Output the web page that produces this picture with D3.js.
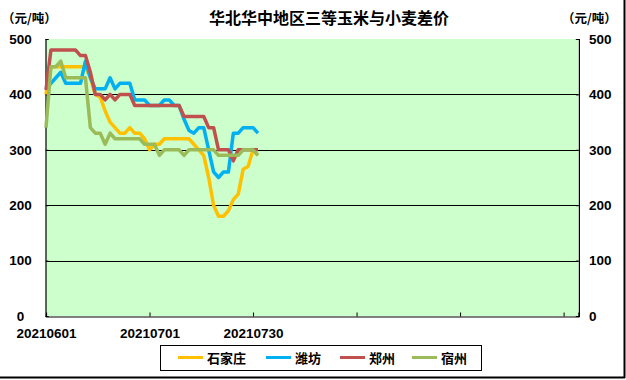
<!DOCTYPE html>
<html><head><meta charset="utf-8">
<script src="https://cdn.jsdelivr.net/npm/d3@7"></script>
<style>
html,body{margin:0;padding:0;background:#fff;}
svg{display:block;}
</style></head>
<body>
<svg id="chart" width="626" height="380"></svg>
<script>
// ---------- DATA ----------
const title = "华北华中地区三等玉米与小麦差价";
const unitLabel = "（元/吨）";
const dates = [
  "20210601","20210602","20210603","20210604","20210607","20210608","20210609","20210610","20210611",
  "20210615","20210616","20210617","20210618","20210621","20210622","20210623","20210624","20210625",
  "20210628","20210629","20210630",
  "20210701","20210702","20210705","20210706","20210707","20210708","20210709","20210712","20210713",
  "20210714","20210715","20210716","20210719","20210720","20210721","20210722","20210723","20210726",
  "20210727","20210728","20210729",
  "20210730","20210802"
];
const totalSlots = 109;          // category slots on the x axis (many left empty)
const labelEvery = 21;           // a tick label every 21 categories
const tickLabels = ["20210601","20210701","20210730","","",""];
const yTicks = [0,100,200,300,400,500];

const seriesNames = ["石家庄","潍坊","郑州","宿州"];
const shijiazhuang = [400,450,450,450,450,450,450,450,450,430,400,395,370,350,340,330,330,340,330,330,320,300,310,310,320,320,320,320,320,320,310,300,290,250,200,180,180,190,210,220,265,270,300,290];
const weifang      = [410,420,430,440,420,420,420,420,460,430,410,410,410,430,410,420,420,420,390,390,390,380,380,380,390,390,380,380,355,335,330,340,340,300,260,250,260,260,330,330,340,340,340,330];
const zhengzhou    = [408,480,480,480,480,480,480,470,470,440,400,400,390,400,390,400,400,400,380,380,380,380,380,380,380,380,380,380,360,360,360,360,360,340,340,300,300,300,280,300,300,300,300,300];
const suzhou       = [340,450,450,460,430,430,430,430,430,340,330,330,310,330,320,320,320,320,320,320,310,310,310,290,300,300,300,300,290,300,300,300,300,300,300,290,290,290,290,290,300,300,300,290];
const seriesValues = [shijiazhuang, weifang, zhengzhou, suzhou];
const seriesColors = ["#FFC000","#00B0F0","#C0504D","#9BBB59"];

// ---------- LAYOUT ----------
const svg = d3.select("#chart");
const plot = {left:46, right:578.4, top:39, bottom:316};

const x = d3.scaleLinear().domain([0,totalSlots-1]).range([plot.left, plot.right]);
const y = d3.scaleLinear().domain([0,500]).range([plot.bottom, plot.top]);

// plot background
svg.append("rect").attr("x",plot.left).attr("y",plot.top)
  .attr("width",plot.right-plot.left).attr("height",plot.bottom-plot.top)
  .attr("fill","#CCFFCC");

// gridlines
svg.append("g").selectAll("line").data(yTicks.filter(d=>d>0 && d<500)).join("line")
  .attr("x1",plot.left).attr("x2",plot.right)
  .attr("y1",d=>Math.round(y(d))+0.5).attr("y2",d=>Math.round(y(d))+0.5)
  .attr("stroke","#000").attr("stroke-width",1);

// left axis
const leftAxis = d3.axisLeft(y).tickValues(yTicks).tickSize(-3).tickPadding(0).tickFormat(d3.format("d"));
const gL = svg.append("g").attr("transform",`translate(${plot.left-0.5},0)`).call(leftAxis);
gL.select(".domain").attr("stroke","#000").attr("stroke-width",1.2);
gL.selectAll(".tick line").attr("stroke","#000");
gL.selectAll(".tick text").attr("x",-25).attr("text-anchor","middle")
  .style("font-family","'Liberation Sans', Arial, sans-serif").style("font-size","13.5px").style("font-weight","bold").attr("fill","#000");

// right axis
const rightAxis = d3.axisRight(y).tickValues(yTicks).tickSize(-3).tickPadding(0).tickFormat(d3.format("d"));
const gR = svg.append("g").attr("transform",`translate(${plot.right+0.5},0)`).call(rightAxis);
gR.select(".domain").attr("stroke","#000").attr("stroke-width",1.2);
gR.selectAll(".tick line").attr("stroke","#000");
gR.selectAll(".tick text").attr("x",10).attr("text-anchor","start")
  .style("font-family","'Liberation Sans', Arial, sans-serif").style("font-size","13.5px").style("font-weight","bold").attr("fill","#000");

// bottom axis
const tickIdx = tickLabels.map((d,i)=>i*labelEvery);
const bottomAxis = d3.axisBottom(x).tickValues(tickIdx).tickSize(-4).tickPadding(0)
  .tickFormat((d,i)=>tickLabels[i]);
const gB = svg.append("g").attr("transform",`translate(0,${plot.bottom+0.5})`).call(bottomAxis);
gB.select(".domain").attr("stroke","#000").attr("stroke-width",1.2);
gB.selectAll(".tick line").attr("stroke","#000").attr("stroke-width",1);
gB.selectAll(".tick").filter((d,i)=>i===0).select("line").remove();
gB.selectAll(".tick text").attr("y",12)
  .style("font-family","'Liberation Sans', Arial, sans-serif").style("font-size","13.5px").style("font-weight","bold").attr("fill","#000");

// lines
const line = d3.line().x((d,i)=>x(i)).y(d=>y(d));
seriesValues.forEach((vals,k)=>{
  svg.append("path").datum(vals).attr("d",line)
    .attr("fill","none").attr("stroke",seriesColors[k]).attr("stroke-width",3.5)
    .attr("stroke-linejoin","round").attr("stroke-linecap","butt");
});

// title
svg.append("text").attr("x",329).attr("y",24).attr("text-anchor","middle")
  .style("font-family","'Noto Sans CJK SC', sans-serif").style("font-size","16px").style("font-weight","bold")
  .text(title);
// unit labels
svg.append("text").attr("x",2).attr("y",23)
  .style("font-family","'Noto Sans CJK SC', sans-serif").style("font-size","12.5px").style("font-weight","bold").text(unitLabel);
svg.append("text").attr("x",562).attr("y",23)
  .style("font-family","'Noto Sans CJK SC', sans-serif").style("font-size","12.5px").style("font-weight","bold").text(unitLabel);

// legend
const lg = svg.append("g");
lg.append("rect").attr("x",160.5).attr("y",345.5).attr("width",321).attr("height",25)
  .attr("fill","#fff").attr("stroke","#000").attr("stroke-width",1);
const legendX = [178, 266, 340, 412];
seriesNames.forEach((n,k)=>{
  lg.append("line").attr("x1",legendX[k]).attr("x2",legendX[k]+25)
    .attr("y1",357.5).attr("y2",357.5).attr("stroke",seriesColors[k]).attr("stroke-width",3);
  lg.append("text").attr("x",legendX[k]+29).attr("y",362.5)
    .style("font-family","'Noto Sans CJK SC', sans-serif").style("font-size","13px").style("font-weight","bold").text(n);
});

// outer frame (right & bottom edges)
svg.append("line").attr("x1",624.5).attr("x2",624.5).attr("y1",0).attr("y2",378).attr("stroke","#000").attr("stroke-width",2);
svg.append("line").attr("x1",0).attr("x2",625).attr("y1",377.5).attr("y2",377.5).attr("stroke","#000").attr("stroke-width",2);
</script>
</body></html>
